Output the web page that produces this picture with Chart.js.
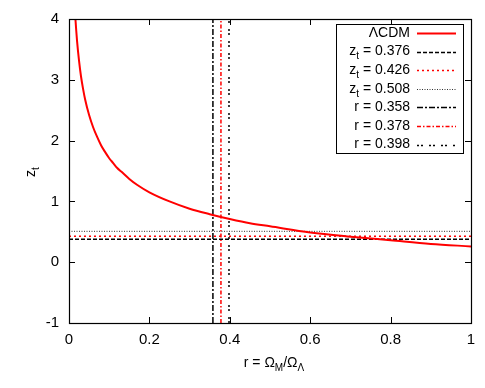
<!DOCTYPE html>
<html><head><meta charset="utf-8">
<script src="https://cdn.jsdelivr.net/npm/chart.js@4"></script>
<style>html,body{margin:0;padding:0;background:#fff}</style>
</head><body>
<canvas id="c" width="485" height="388"></canvas>
<script>
// ΛCDM curve
const rVals  = [0.016,0.018,0.02,0.025,0.03,0.035,0.04,0.05,0.06,0.07,0.08,0.09,0.1,0.11,0.12,0.13,0.15,0.17,0.2,0.25,0.3,0.35,0.4,0.45,0.5,0.6,0.7,0.8,0.9,1.0];
const ztVals = [4.0,3.81,3.64,3.31,3.05,2.85,2.68,2.42,2.22,2.06,1.92,1.81,1.71,1.63,1.55,1.49,1.37,1.27,1.15,1.0,0.88,0.79,0.71,0.64,0.59,0.49,0.42,0.36,0.30,0.26];
const hLevels = [0.376,0.426,0.508];
const vLevels = [0.358,0.378,0.398];
const xTicks = [0,0.2,0.4,0.6,0.8,1];
const yTicks = [-1,0,1,2,3,4];
const FONT = '"Liberation Sans", Arial, sans-serif';

const styles = [
  {label:['ΛCDM',''], color:'#ff0000', width:2, dash:[]},
  {label:['z','t',' = 0.376'], color:'#000', width:1.5, dash:[4,2]},
  {label:['z','t',' = 0.426'], color:'#ff0000', width:1.5, dash:[2,3]},
  {label:['z','t',' = 0.508'], color:'#333', width:1, dash:[1,1.5]},
  {label:['r = 0.358'], color:'#000', width:1.5, dash:[6,2,2,2]},
  {label:['r = 0.378'], color:'#ff0000', width:1.5, dash:[4,2,1.5,2]},
  {label:['r = 0.398'], color:'#000', width:1.5, dash:[2,2,2,6]}
];

const datasets = [];
datasets.push({data: rVals.map((r,i)=>({x:r,y:ztVals[i]})), borderColor:styles[0].color, borderWidth:2, pointRadius:0, cubicInterpolationMode:'monotone', fill:false});
hLevels.forEach((h,i)=>{const s=styles[1+i];datasets.push({data:[{x:0,y:h},{x:1,y:h}],borderColor:s.color,borderWidth:s.width,borderDash:s.dash,pointRadius:0,fill:false});});
vLevels.forEach((v,i)=>{const s=styles[4+i];datasets.push({data:[{x:v,y:-1},{x:v,y:4}],borderColor:s.color,borderWidth:s.width,borderDash:s.dash,pointRadius:0,fill:false});});

const deco = {
  id:'deco',
  afterDraw(chart){
    const ctx=chart.ctx, a=chart.chartArea, xs=chart.scales.x, ys=chart.scales.y;
    ctx.save();
    ctx.strokeStyle='#000'; ctx.lineWidth=1; ctx.setLineDash([]);
    ctx.beginPath();
    xTicks.forEach(t=>{const p=Math.round(xs.getPixelForValue(t))+0.5;ctx.moveTo(p,a.bottom);ctx.lineTo(p,a.bottom-6);ctx.moveTo(p,a.top);ctx.lineTo(p,a.top+6);});
    yTicks.forEach(t=>{const p=Math.round(ys.getPixelForValue(t))+0.5;ctx.moveTo(a.left,p);ctx.lineTo(a.left+6,p);ctx.moveTo(a.right,p);ctx.lineTo(a.right-6,p);});
    ctx.stroke();
    ctx.lineWidth=1.2;
    ctx.strokeRect(Math.round(a.left)+0.5,Math.round(a.top)+0.5,Math.round(a.right-a.left),Math.round(a.bottom-a.top));
    // legend
    const bx=336,by=24,bw=127,bh=129;
    ctx.fillStyle='#fff'; ctx.fillRect(bx,by,bw,bh);
    ctx.lineWidth=1; ctx.strokeRect(bx+0.5,by+0.5,bw,bh);
    ctx.fillStyle='#000'; ctx.textBaseline='middle';
    styles.forEach((s,i)=>{
      const y=33+i*18.6;
      const tx=410;
      ctx.font='14px '+FONT;
      if(s.label.length===3){
        const rest=s.label[2];
        ctx.textAlign='right';
        ctx.fillText(rest,tx,y);
        const rw=ctx.measureText(rest).width;
        ctx.font='10px '+FONT;
        const sw=ctx.measureText(s.label[1]).width;
        ctx.fillText(s.label[1],tx-rw,y+5);
        ctx.font='14px '+FONT;
        ctx.fillText(s.label[0],tx-rw-sw,y);
      } else {
        ctx.textAlign='right';
        ctx.fillText(s.label[0],tx,y);
      }
      ctx.strokeStyle=s.color; ctx.lineWidth=s.width; ctx.setLineDash(s.dash);
      ctx.beginPath(); ctx.moveTo(417,Math.round(y)+0.5); ctx.lineTo(456,Math.round(y)+0.5); ctx.stroke();
      ctx.setLineDash([]);
    });
    // axis titles
    ctx.fillStyle='#000'; ctx.textBaseline='alphabetic';
    const parts=[['r = Ω',14,0],['M',10,4],['/Ω',14,0],['Λ',10,4]];
    let tot=0; parts.forEach(p=>{ctx.font=p[1]+'px '+FONT; tot+=ctx.measureText(p[0]).width;});
    let x0=(a.left+a.right)/2 - tot/2 +4;
    parts.forEach(p=>{ctx.font=p[1]+'px '+FONT; ctx.textAlign='left'; ctx.fillText(p[0],x0,367+p[2]); x0+=ctx.measureText(p[0]).width;});
    ctx.save(); ctx.translate(35,172); ctx.rotate(-Math.PI/2);
    ctx.font='14px '+FONT; ctx.textAlign='left';
    const zw=ctx.measureText('z').width;
    ctx.font='10px '+FONT; const tw=ctx.measureText('t').width;
    ctx.font='14px '+FONT; ctx.fillText('z',-(zw+tw)/2,0);
    ctx.font='10px '+FONT; ctx.fillText('t',-(zw+tw)/2+zw,4);
    ctx.restore();
    ctx.restore();
  }
};

new Chart(document.getElementById('c'),{
  type:'line',
  data:{datasets},
  options:{
    responsive:false, animation:false,
    layout:{padding:{top:17,right:14,left:0,bottom:0}},
    plugins:{legend:{display:false},tooltip:{enabled:false}},
    scales:{
      x:{type:'linear',min:0,max:1,grid:{display:false,drawTicks:false},border:{display:false},
        afterFit(s){s.height=65;},
        afterBuildTicks(s){s.ticks=xTicks.map(v=>({value:v}));},
        ticks:{padding:8,color:'#000',font:{family:FONT,size:15},maxRotation:0,callback:v=>String(v)}},
      y:{type:'linear',min:-1,max:4,grid:{display:false,drawTicks:false},border:{display:false},
        afterFit(s){s.width=69;},
        afterBuildTicks(s){s.ticks=yTicks.map(v=>({value:v}));},
        ticks:{padding:10,color:'#000',font:{family:FONT,size:15},callback:v=>String(v)}}
    }
  },
  plugins:[deco]
});
</script>
</body></html>
